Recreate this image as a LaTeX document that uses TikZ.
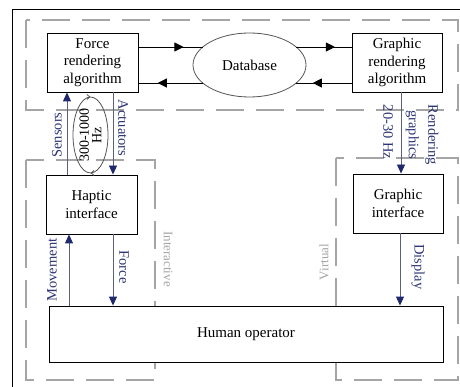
\documentclass[tikz,border=0pt]{standalone}
\usepackage{fontspec}
\setmainfont{Liberation Serif}
\usetikzlibrary{arrows.meta,shapes.geometric,decorations.markings}

\definecolor{navytext}{HTML}{2E3575}
\definecolor{navyline}{HTML}{5C6078}
\definecolor{navyhead}{HTML}{1F2A6E}
\definecolor{zonegrey}{HTML}{A5A5A5}
\definecolor{ringgrey}{HTML}{555555}

\tikzset{
  block/.style={draw=black, line width=0.9pt, fill=white, align=center,
    inner sep=0pt, font=\fontsize{15}{17.5}\selectfont},
  dbnode/.style={ellipse, draw=ringgrey, line width=0.8pt, fill=white,
    inner sep=0pt, minimum width=113pt, minimum height=64pt,
    font=\fontsize{15}{17.5}\selectfont},
  midarrow/.style={draw=black, line width=0.9pt,
    decoration={markings, mark=at position 0.7 with
      {\arrow{Triangle[length=9pt,width=9pt]}}},
    postaction={decorate}},
  signal/.style={draw=navyline, line width=0.9pt,
    -{Triangle[length=9pt,width=8pt,color=navyhead]}},
  siglabel/.style={text=navytext, align=center, inner sep=0pt,
    font=\fontsize{14.5}{19.5}\selectfont},
  zone/.style={draw=zonegrey, line width=1.2pt, dash pattern=on 28pt off 12pt},
  zonelabel/.style={text=zonegrey, inner sep=0pt, font=\fontsize{13}{14}\selectfont},
  hzring/.style={draw=ringgrey, line width=0.8pt,
    decoration={markings,
      mark=at position 0.25 with {\arrow{Straight Barb[length=3pt,width=5pt]}},
      mark=at position 0.75 with {\arrow{Straight Barb[length=3pt,width=5pt]}}},
    postaction={decorate}},
  hznode/.style={inner sep=0pt, align=center, rotate=90,
    font=\fontsize{14}{12.5}\selectfont}
}

\begin{document}
\begin{tikzpicture}[x=1pt,y=-1pt]
  \clip (0,0) rectangle (460,387);
  \fill[white] (0,0) rectangle (460,387);

  % outer frame (runs off the right and bottom edges)
  \draw[black, line width=1pt] (12,400) -- (12,10) -- (480,10);

  % dashed zones
  \draw[zone] (26,20) rectangle (458,110);
  \draw[zone] (26,160) rectangle (155,380);
  \draw[zone] (336,158) rectangle (458,380);
  \node[zonelabel, rotate=-90] (interlbl) at (168,259) {Interactive};
  \node[zonelabel, rotate=90] (virtlbl) at (324,262) {Virtual};

  % blocks
  \node[block, minimum width=91pt, minimum height=59pt] (force) at (92.5,62.5)
    {Force\\rendering\\algorithm};
  \node[block, minimum width=90pt, minimum height=59pt] (graphic) at (397,62.5)
    {Graphic\\rendering\\algorithm};
  \node[dbnode] (db) at (249.5,65) {Database};
  \node[block, minimum width=91pt, minimum height=59pt] (haptic) at (91.5,204.5)
    {Haptic\\interface};
  \node[block, minimum width=90pt, minimum height=59pt] (ginter) at (398,203.5)
    {Graphic\\interface};
  \node[block, minimum width=394pt, minimum height=56pt] (human) at (246,334)
    {Human operator};

  % points where the data links meet the database outline
  \coordinate (dbtl) at ([shift={(-46.7,-18)}]db.center);
  \coordinate (dbtr) at ([shift={(46.7,-18)}]db.center);
  \coordinate (dbbl) at ([shift={(-46.7,18)}]db.center);
  \coordinate (dbbr) at ([shift={(46.7,18)}]db.center);

  % data links through the database
  \draw[midarrow] (force.east |- dbtl) -- (dbtl);
  \draw[midarrow] (dbtr) -- (graphic.west |- dbtr);
  \draw[midarrow] (graphic.west |- dbbr) -- (dbbr);
  \draw[midarrow] (dbbl) -- (force.east |- dbbl);

  % haptic loop
  \draw[signal] (haptic.north -| 67,0) -- (force.south -| 67,0);
  \draw[signal] (force.south -| 113,0) -- (haptic.north -| 113,0);
  \node[siglabel, rotate=90] (sensors) at (57,135) {Sensors};
  \node[siglabel, rotate=-90] (actuators) at (123,128) {Actuators};

  % update-rate ring
  \node[hznode] (hz) at (90.5,135) {300-1000\\Hz};
  \draw[hzring] (hz.center) ellipse [x radius=17.5, y radius=38];

  % human side of the haptic loop
  \draw[signal] (human.north -| 69,0) -- (haptic.south -| 69,0);
  \draw[signal] (haptic.south -| 113,0) -- (human.north -| 113,0);
  \node[siglabel, rotate=90] (movement) at (52,270) {Movement};
  \node[siglabel, rotate=-90] (forcelbl) at (124,267) {Force};

  % visual loop
  \draw[signal] (graphic.south -| 401,0) -- (ginter.north -| 401,0);
  \node[siglabel, rotate=-90] (rate) at (388,132) {20-30 Hz};
  \node[siglabel, rotate=-90] (rendering) at (422,135) {Rendering\\graphics};
  \draw[signal] (ginter.south -| 400,0) -- (human.north -| 400,0);
  \node[siglabel, rotate=-90] (display) at (418,267) {Display};
\end{tikzpicture}
\end{document}
